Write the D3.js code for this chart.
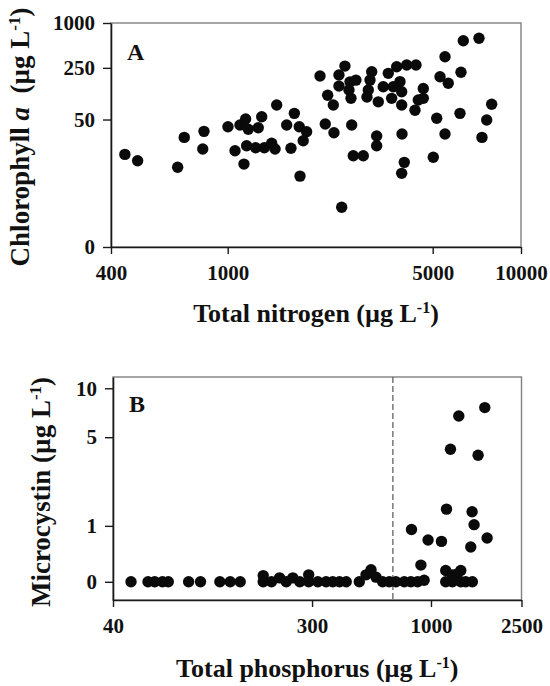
<!DOCTYPE html>
<html>
<head>
<meta charset="utf-8">
<script src="https://cdn.jsdelivr.net/npm/d3@7"></script>
<style>
  body { margin: 0; background: #fff; }
  text { font-family: "Liberation Serif", "Times New Roman", serif; font-weight: bold; fill: #111; }
</style>
</head>
<body>
<div id="chart"></div>
<script>
// Panel A: total nitrogen vs chlorophyll a
const tnValues = [446, 493, 675, 711, 830, 822, 1002, 1059, 1136, 1101, 1151, 1175, 1271, 1306, 1160, 1245, 1333, 1412, 1450, 1469,
  1643, 1589, 1687, 1754, 1858, 1809, 1764, 2447, 2064, 2192, 2291, 2151, 2303, 2395, 2510, 2395, 2647, 2612, 2736, 2591,
  2632, 3097, 3056, 3015, 2984, 3261, 3528, 3768, 4076, 4385, 3391, 3668, 3867, 3622, 3919, 3919, 4351, 4644, 4644, 4465,
  5507, 5295, 5649, 5160, 3220, 3929, 5507, 3220, 2680, 2899, 4000, 3919, 6357, 7190, 6243, 6194, 5022, 7943, 7638, 7360];
const chlValues = [16.4, 13.3, 10.7, 28.4, 34.4, 19.5, 39.8, 18.5, 11.9, 42, 50.8, 36.7, 38.6, 54.6, 21.7, 20.4, 20.4, 23.5, 19.5, 78.8,
  20, 42, 60.7, 39.8, 34, 25.5, 7.9, 2.4, 194, 107, 78.8, 43.4, 32.9, 200, 264, 142, 42, 162, 171, 126,
  97, 222, 171, 126, 101, 87, 211, 259, 273, 273, 139, 139, 163, 97, 119, 78.8, 67, 132, 97, 92,
  353, 190, 155, 52, 29.7, 31.6, 31.6, 21.7, 15.7, 15.7, 12.6, 8.7, 578, 623, 218, 60.7, 14.9, 80.5, 49.2, 28.4];

// Panel B: total phosphorus vs microcystin
const tpValues = [48, 57, 61, 66, 70, 86, 97, 118, 131, 145, 183, 183, 199, 216, 231, 247, 265, 290, 290, 318, 346, 370, 396, 424,
  484, 518, 545, 573, 613, 656, 701, 763, 816, 873, 903, 933, 1161, 1161, 1242, 1242, 1300, 1352, 1352, 1421, 1520,
  1724, 1325, 1218, 1611, 1170, 1516, 1547, 1765, 1496, 821, 971, 1112];
const mcValues = [0, 0, 0, 0, 0, 0, 0, 0, 0, 0, 0.08, 0, 0, 0.05, 0, 0.05, 0, 0.09, 0, 0, 0, 0, 0, 0,
  0, 0.09, 0.16, 0.06, 0, 0, 0, 0, 0, 0, 0.23, 0.02, 0.15, 0, 0.09, 0, 0.1, 0.15, 0, 0, 0,
  7.66, 6.8, 4.17, 3.8, 1.46, 1.38, 1.03, 0.72, 0.54, 0.91, 0.68, 0.65];
const tpThreshold = 680;

const tnTicks = [400, 1000, 5000, 10000];
const chlTicks = [0, 50, 250, 1000];
const tpTicks = [40, 300, 1000, 2500];
const mcTicks = [0, 1, 5, 10];

const svg = d3.select('#chart').append('svg')
    .attr('width', 550)
    .attr('height', 686);

function drawPanel(p) {
    const x = d3.scaleLog().domain(p.xDomain).range([p.left, p.right]);
    // values are plotted as log(v + 1)
    const y = d3.scaleSymlog().constant(1).domain(p.yDomain).range([p.bottom, p.top]);

    // frame (top and right edges are lighter)
    svg.append('rect')
        .attr('x', p.left).attr('y', p.top)
        .attr('width', p.right - p.left).attr('height', p.bottom - p.top)
        .attr('fill', 'none').attr('stroke', '#808080').attr('stroke-width', 1.4);

    if (p.vline) {
        svg.append('line')
            .attr('x1', x(p.vline)).attr('x2', x(p.vline))
            .attr('y1', p.top).attr('y2', p.bottom)
            .attr('stroke', '#555').attr('stroke-width', 1.2)
            .attr('stroke-dasharray', '6,3');
    }

    const xAxis = svg.append('g')
        .attr('transform', `translate(0,${p.bottom})`)
        .call(d3.axisBottom(x).tickValues(p.xTicks).tickFormat(d3.format('d'))
            .tickSize(7).tickPadding(11).tickSizeOuter(0));
    const yAxis = svg.append('g')
        .attr('transform', `translate(${p.left},0)`)
        .call(d3.axisLeft(y).tickValues(p.yTicks).tickFormat(d3.format('d'))
            .tickSize(8).tickPadding(8).tickSizeOuter(0));

    [xAxis, yAxis].forEach(function(a) {
        a.select('.domain').attr('stroke', '#1a1a1a').attr('stroke-width', 1.6);
        a.selectAll('.tick line').attr('stroke', '#1a1a1a').attr('stroke-width', 1.4);
        a.selectAll('.tick text').style('font-size', '21px').attr('fill', '#111');
    });

    svg.append('g').selectAll('circle')
        .data(p.xs)
        .enter().append('circle')
        .attr('cx', function(d) { return x(d); })
        .attr('cy', function(d, i) { return y(p.ys[i]); })
        .attr('r', 5.7)
        .attr('fill', '#0a0a0a');

    svg.append('text')
        .attr('x', p.left + 16).attr('y', p.letterY)
        .style('font-size', '24px')
        .text(p.letter);

    // x title
    const xt = svg.append('text')
        .attr('x', (p.left + p.right) / 2).attr('y', p.xTitleY)
        .attr('text-anchor', 'middle')
        .style('font-size', '26px');
    xt.append('tspan').text(p.xTitle + ' (\u00b5g L');
    xt.append('tspan').attr('dy', -9).style('font-size', '16px').text('-1');
    xt.append('tspan').attr('dy', 9).text(')');

    // y title
    const yt = svg.append('text')
        .attr('transform', `translate(${p.yTitleX},${p.yTitleY}) rotate(-90)`)
        .attr('text-anchor', 'middle')
        .style('font-size', '27px');
    p.yTitle.forEach(function(part) {
        yt.append('tspan').style('font-style', part.italic ? 'italic' : 'normal').text(part.t);
    });
    yt.append('tspan').attr('dy', -9).style('font-size', '17px').text('-1');
    yt.append('tspan').attr('dy', 9).text(')');
}

drawPanel({
    left: 111, right: 521, top: 23, bottom: 247,
    xDomain: [400, 10000], yDomain: [0, 1000],
    xTicks: tnTicks, yTicks: chlTicks,
    xs: tnValues, ys: chlValues,
    letter: 'A', letterY: 60,
    xTitle: 'Total nitrogen', xTitleY: 322,
    yTitle: [{t: 'Chlorophyll '}, {t: 'a', italic: true}, {t: '\u00a0 (\u00b5g L'}],
    yTitleX: 29, yTitleY: 137
});

drawPanel({
    left: 113, right: 521.5, top: 377, bottom: 600,
    xDomain: [40, 2500], yDomain: [-0.253, 11.65],
    xTicks: tpTicks, yTicks: mcTicks,
    xs: tpValues, ys: mcValues,
    vline: tpThreshold,
    letter: 'B', letterY: 412,
    xTitle: 'Total phosphorus', xTitleY: 677,
    yTitle: [{t: 'Microcystin (\u00b5g L'}],
    yTitleX: 50, yTitleY: 492
});
</script>
</body>
</html>
